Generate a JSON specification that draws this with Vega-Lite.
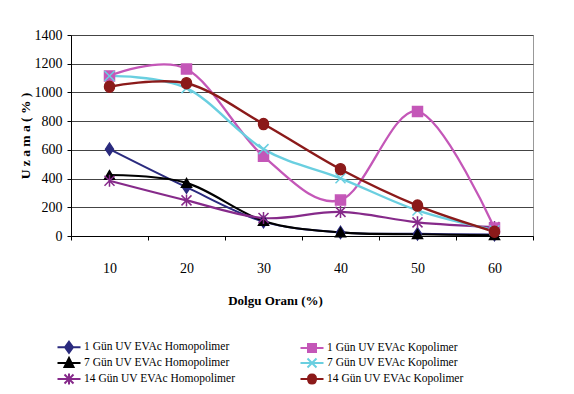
{
  "$schema": "https://vega.github.io/schema/vega-lite/v6.json",
  "width": 462,
  "height": 201,
  "autosize": {"type": "none"},
  "padding": {"left": 71, "top": 35, "right": 41, "bottom": 158},
  "background": "white",
  "config": {
    "font": "Liberation Serif",
    "view": {"stroke": "#999999", "strokeWidth": 1},
    "axis": {"labelFont": "Liberation Serif", "titleFont": "Liberation Serif", "labelColor": "black", "titleColor": "black"}
  },
  "data": {"values": [
    {"d": 10, "s": "1 Gün UV EVAc Homopolimer", "v": 605},
    {"d": 20, "s": "1 Gün UV EVAc Homopolimer", "v": 340},
    {"d": 30, "s": "1 Gün UV EVAc Homopolimer", "v": 100},
    {"d": 40, "s": "1 Gün UV EVAc Homopolimer", "v": 25},
    {"d": 50, "s": "1 Gün UV EVAc Homopolimer", "v": 15},
    {"d": 60, "s": "1 Gün UV EVAc Homopolimer", "v": 10},
    {"d": 10, "s": "7 Gün UV EVAc Homopolimer", "v": 425},
    {"d": 20, "s": "7 Gün UV EVAc Homopolimer", "v": 370},
    {"d": 30, "s": "7 Gün UV EVAc Homopolimer", "v": 105},
    {"d": 40, "s": "7 Gün UV EVAc Homopolimer", "v": 25},
    {"d": 50, "s": "7 Gün UV EVAc Homopolimer", "v": 12},
    {"d": 60, "s": "7 Gün UV EVAc Homopolimer", "v": 5},
    {"d": 10, "s": "14 Gün UV EVAc Homopolimer", "v": 385},
    {"d": 20, "s": "14 Gün UV EVAc Homopolimer", "v": 248},
    {"d": 30, "s": "14 Gün UV EVAc Homopolimer", "v": 125},
    {"d": 40, "s": "14 Gün UV EVAc Homopolimer", "v": 168},
    {"d": 50, "s": "14 Gün UV EVAc Homopolimer", "v": 95},
    {"d": 60, "s": "14 Gün UV EVAc Homopolimer", "v": 62},
    {"d": 10, "s": "1 Gün UV EVAc Kopolimer", "v": 1115},
    {"d": 20, "s": "1 Gün UV EVAc Kopolimer", "v": 1163},
    {"d": 30, "s": "1 Gün UV EVAc Kopolimer", "v": 555},
    {"d": 40, "s": "1 Gün UV EVAc Kopolimer", "v": 250},
    {"d": 50, "s": "1 Gün UV EVAc Kopolimer", "v": 868},
    {"d": 60, "s": "1 Gün UV EVAc Kopolimer", "v": 55},
    {"d": 10, "s": "7 Gün UV EVAc Kopolimer", "v": 1115},
    {"d": 20, "s": "7 Gün UV EVAc Kopolimer", "v": 1030},
    {"d": 30, "s": "7 Gün UV EVAc Kopolimer", "v": 605},
    {"d": 40, "s": "7 Gün UV EVAc Kopolimer", "v": 402},
    {"d": 50, "s": "7 Gün UV EVAc Kopolimer", "v": 178},
    {"d": 60, "s": "7 Gün UV EVAc Kopolimer", "v": 40},
    {"d": 10, "s": "14 Gün UV EVAc Kopolimer", "v": 1040},
    {"d": 20, "s": "14 Gün UV EVAc Kopolimer", "v": 1064},
    {"d": 30, "s": "14 Gün UV EVAc Kopolimer", "v": 780},
    {"d": 40, "s": "14 Gün UV EVAc Kopolimer", "v": 465},
    {"d": 50, "s": "14 Gün UV EVAc Kopolimer", "v": 212},
    {"d": 60, "s": "14 Gün UV EVAc Kopolimer", "v": 30}
  ]},
  "encoding": {
    "x": {
      "field": "d", "type": "ordinal", "bandPosition": 0.5,
      "scale": {"type": "band", "paddingInner": 0, "paddingOuter": 0},
      "axis": {
        "title": "Dolgu Oranı (%)", "titleFontSize": 13, "titleFontWeight": "bold", "titlePadding": 19, "titleX": 204,
        "labelAngle": 0, "labelFontSize": 14, "labelPadding": 21, "tickBand": "extent", "tickSize": 4,
        "domainColor": "black", "tickColor": "black", "grid": false
      }
    },
    "y": {
      "field": "v", "type": "quantitative",
      "scale": {"domain": [0, 1400], "nice": false},
      "axis": {
        "title": "U z a m a ( % )", "titleFontSize": 13.5, "titleFontWeight": "bold", "titlePadding": 2,
        "values": [0, 200, 400, 600, 800, 1000, 1200, 1400], "format": "d",
        "labelFontSize": 14, "labelPadding": 5, "tickSize": 4,
        "domainColor": "black", "tickColor": "black",
        "grid": true, "gridColor": "#444444", "gridWidth": 1
      }
    }
  },
  "resolve": {"scale": {"shape": "independent", "color": "independent", "stroke": "independent", "strokeWidth": "independent"}},
  "layer": [
    {
      "mark": {"type": "line", "interpolate": "cardinal", "tension": 0},
      "encoding": {
        "stroke": {"field": "s", "type": "nominal", "legend": null,
          "scale": {"domain": ["1 Gün UV EVAc Homopolimer", "7 Gün UV EVAc Homopolimer", "14 Gün UV EVAc Homopolimer", "1 Gün UV EVAc Kopolimer", "7 Gün UV EVAc Kopolimer", "14 Gün UV EVAc Kopolimer"],
                    "range": ["#2A2A7E", "#000000", "#862A8A", "#C457B8", "#6ACFE0", "#8B1A1A"]}},
        "strokeWidth": {"field": "s", "type": "nominal", "legend": null,
          "scale": {"domain": ["1 Gün UV EVAc Homopolimer", "7 Gün UV EVAc Homopolimer", "14 Gün UV EVAc Homopolimer", "1 Gün UV EVAc Kopolimer", "7 Gün UV EVAc Kopolimer", "14 Gün UV EVAc Kopolimer"],
                    "range": [2, 2.5, 2.5, 1.5, 2.5, 2]}},
        "order": {"field": "d", "type": "quantitative"}
      }
    },
    {
      "mark": {"type": "point", "filled": true, "size": 100, "opacity": 1, "strokeWidth": 1.5},
      "encoding": {
        "shape": {"field": "s", "type": "nominal", "legend": null,
          "scale": {"domain": ["1 Gün UV EVAc Homopolimer", "7 Gün UV EVAc Homopolimer", "14 Gün UV EVAc Homopolimer", "1 Gün UV EVAc Kopolimer", "7 Gün UV EVAc Kopolimer", "14 Gün UV EVAc Kopolimer"],
                    "range": ["M0,-1.2L0.8,0L0,1.2L-0.8,0Z", "triangle-up", "M-1,-1L1,1M1,-1L-1,1M0,-1.2L0,1.2", "square", "M-1,-1L1,1M1,-1L-1,1", "M0,-1.1C0.6,-1.1 1,-0.6 1,0C1,0.6 0.6,1.1 0,1.1C-0.6,1.1 -1,0.6 -1,0C-1,-0.6 -0.6,-1.1 0,-1.1Z"]}},
        "color": {"field": "s", "type": "nominal", "legend": null,
          "scale": {"domain": ["1 Gün UV EVAc Homopolimer", "7 Gün UV EVAc Homopolimer", "14 Gün UV EVAc Homopolimer", "1 Gün UV EVAc Kopolimer", "7 Gün UV EVAc Kopolimer", "14 Gün UV EVAc Kopolimer"],
                    "range": ["#2A2A7E", "#000000", "#862A8A", "#C457B8", "#6ACFE0", "#8B1A1A"]}},
        "stroke": {"field": "s", "type": "nominal", "legend": null,
          "scale": {"domain": ["1 Gün UV EVAc Homopolimer", "7 Gün UV EVAc Homopolimer", "14 Gün UV EVAc Homopolimer", "1 Gün UV EVAc Kopolimer", "7 Gün UV EVAc Kopolimer", "14 Gün UV EVAc Kopolimer"],
                    "range": ["#2A2A7E", "#000000", "#862A8A", "#C457B8", "#6ACFE0", "#8B1A1A"]}}
      }
    },
    {
      "mark": {"type": "point", "filled": true, "size": 100, "opacity": 0, "strokeWidth": 2},
      "encoding": {
        "shape": {"field": "s", "type": "nominal",
          "scale": {"domain": ["1 Gün UV EVAc Homopolimer", "7 Gün UV EVAc Homopolimer", "14 Gün UV EVAc Homopolimer", "1 Gün UV EVAc Kopolimer", "7 Gün UV EVAc Kopolimer", "14 Gün UV EVAc Kopolimer"],
                    "range": ["M-2.3,0L2.3,0M0,-1.1L0.8,0L0,1.1L-0.8,0Z", "M-2.3,0L2.3,0M0,-1L0.9,0.8L-0.9,0.8Z", "M-2.3,0L2.3,0M-0.9,-0.9L0.9,0.9M0.9,-0.9L-0.9,0.9M0,-1.1L0,1.1", "M-2.3,0L2.3,0M-0.8,-0.8L0.8,-0.8L0.8,0.8L-0.8,0.8Z", "M-2.3,0L2.3,0M-0.9,-0.9L0.9,0.9M0.9,-0.9L-0.9,0.9", "M-2.3,0L2.3,0M0,-0.9C0.5,-0.9 0.8,-0.5 0.8,0C0.8,0.5 0.5,0.9 0,0.9C-0.5,0.9 -0.8,0.5 -0.8,0C-0.8,-0.5 -0.5,-0.9 0,-0.9Z"]},
          "legend": {
            "title": null, "orient": "none", "legendX": -8, "legendY": 306,
            "columns": 2, "columnPadding": 60, "rowPadding": -3, "padding": 0,
            "symbolSize": 100, "symbolOpacity": 1, "symbolStrokeWidth": 2,
            "labelFont": "Liberation Serif", "labelFontSize": 11.5, "labelColor": "black", "labelOffset": 9, "labelLimit": 300
          }},
        "color": {"field": "s", "type": "nominal",
          "scale": {"domain": ["1 Gün UV EVAc Homopolimer", "7 Gün UV EVAc Homopolimer", "14 Gün UV EVAc Homopolimer", "1 Gün UV EVAc Kopolimer", "7 Gün UV EVAc Kopolimer", "14 Gün UV EVAc Kopolimer"],
                    "range": ["#2A2A7E", "#000000", "#862A8A", "#C457B8", "#6ACFE0", "#8B1A1A"]}},
        "stroke": {"field": "s", "type": "nominal",
          "scale": {"domain": ["1 Gün UV EVAc Homopolimer", "7 Gün UV EVAc Homopolimer", "14 Gün UV EVAc Homopolimer", "1 Gün UV EVAc Kopolimer", "7 Gün UV EVAc Kopolimer", "14 Gün UV EVAc Kopolimer"],
                    "range": ["#2A2A7E", "#000000", "#862A8A", "#C457B8", "#6ACFE0", "#8B1A1A"]}}
      }
    }
  ]
}
